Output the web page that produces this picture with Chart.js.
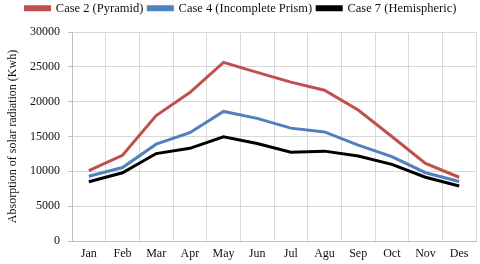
<!DOCTYPE html>
<html>
<head>
<meta charset="utf-8">
<script src="https://cdn.jsdelivr.net/npm/chart.js@4/dist/chart.umd.min.js"></script>
<style>
  html, body { margin: 0; padding: 0; background: #fff; }
  #wrap { width: 480px; height: 264px; }
</style>
</head>
<body>
<div id="wrap"><canvas id="myChart" width="480" height="264"></canvas></div>
<script>
let months = ['Jan', 'Feb', 'Mar', 'Apr', 'May', 'Jun', 'Jul', 'Agu', 'Sep', 'Oct', 'Nov', 'Des']
let pyramid = [10100, 12300, 18000, 21300, 25650, 24200, 22800, 21650, 18800, 15000, 11150, 9150]
let prism = [9300, 10550, 13900, 15550, 18600, 17600, 16200, 15650, 13750, 12100, 9800, 8550]
let hemispheric = [8500, 9800, 12550, 13300, 14950, 14000, 12750, 12900, 12200, 11000, 9150, 7900]
let yTicks = [0, 5000, 10000, 15000, 20000, 25000, 30000]

let serif = "'Liberation Serif', 'Times New Roman', serif"

let makeSet = (label, data, color) => {
    return {
        label: label,
        data: data,
        borderColor: color,
        backgroundColor: color,
        borderWidth: 3,
        pointRadius: 0,
        tension: 0,
        fill: false
    }
}

// squeeze the legend box so the plot sits right under it
let legendGap = {
    id: 'legendGap',
    beforeInit: (chart) => {
        let fit = chart.legend.fit
        chart.legend.fit = function () {
            fit.bind(chart.legend)()
            this.height = 35
        }
    }
}

let ctx = document.getElementById('myChart').getContext('2d')
let chart = new Chart(ctx, {
    type: 'line',
    data: {
        labels: months,
        datasets: [
            makeSet('Case 2 (Pyramid)', pyramid, '#C0504D'),
            makeSet('Case 4 (Incomplete Prism)', prism, '#4F81BD'),
            makeSet('Case 7 (Hemispheric)', hemispheric, '#000000')
        ]
    },
    plugins: [legendGap],
    options: {
        responsive: false,
        animation: false,
        layout: { padding: { left: 6, right: 4, top: -3, bottom: 0 } },
        plugins: {
            legend: {
                position: 'top',
                labels: {
                    boxWidth: 24,
                    boxHeight: 3,
                    padding: 5,
                    color: '#111',
                    font: { family: serif, size: 12.5 }
                }
            },
            tooltip: { enabled: false }
        },
        scales: {
            x: {
                offset: true,
                grid: { offset: true, color: '#d9d9d9', drawTicks: false },
                border: { color: '#bfbfbf' },
                ticks: { color: '#111', padding: 6, font: { family: serif, size: 12 } },
                afterFit: (scale) => { scale.height = 23 }
            },
            y: {
                min: 0,
                max: 30000,
                afterBuildTicks: (scale) => { scale.ticks = yTicks.map(v => ({ value: v })) },
                grid: { color: '#d9d9d9', tickColor: '#bfbfbf', tickLength: 4 },
                border: { color: '#bfbfbf' },
                ticks: {
                    color: '#111',
                    padding: 8,
                    font: { family: serif, size: 12 },
                    callback: (v) => String(v)
                },
                title: {
                    display: true,
                    text: 'Absorption of solar radiation (Kwh)',
                    color: '#111',
                    padding: { top: 0, bottom: 0 },
                    font: { family: serif, size: 12 }
                },
                afterFit: (scale) => { scale.width = 66 }
            }
        }
    }
})
</script>
</body>
</html>
